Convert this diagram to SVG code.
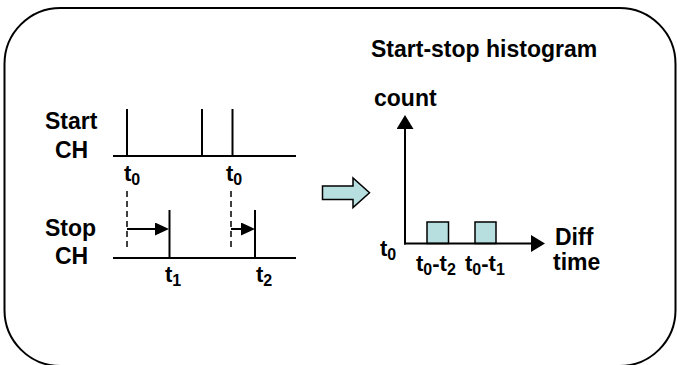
<svg xmlns="http://www.w3.org/2000/svg" width="677" height="365" viewBox="0 0 677 365">
<defs>
<style>
text{font-family:"Liberation Sans",Arial,sans-serif;font-weight:bold;fill:#000;font-size:23px}
.t{font-size:22px}
.ln{stroke:#000;stroke-width:2;fill:none}
.dash{stroke:#000;stroke-width:1.5;stroke-dasharray:6,4;fill:none}
.bar{fill:#b8dfe0;stroke:#000;stroke-width:1.5}
.sub{font-size:16px}
</style>
<marker id="ahS" markerUnits="userSpaceOnUse" markerWidth="14" markerHeight="13" refX="8" refY="6.5" orient="auto"><path d="M0,0 L14,6.5 L0,13 z" fill="#000"/></marker>
<marker id="ahB" markerUnits="userSpaceOnUse" markerWidth="14" markerHeight="17" refX="8" refY="8.5" orient="auto"><path d="M0,0 L14,8.5 L0,17 z" fill="#000"/></marker>
</defs>
<rect x="4.5" y="8" width="671" height="358" rx="56" ry="56" fill="#fff" stroke="#000" stroke-width="2"/>
<g id="start-channel">
<text x="45" y="128.5">Start</text>
<text x="55" y="157.5">CH</text>
<line class="ln" x1="113" y1="156" x2="296" y2="156"/>
<line class="ln" x1="127" y1="109" x2="127" y2="156"/>
<line class="ln" x1="202" y1="109" x2="202" y2="156"/>
<line class="ln" x1="232.5" y1="109" x2="232.5" y2="156"/>
<text class="t" x="124" y="181">t<tspan class="sub" dy="4">0</tspan></text>
<text class="t" x="226" y="181">t<tspan class="sub" dy="4">0</tspan></text>
</g>
<g id="stop-channel">
<text x="45" y="236">Stop</text>
<text x="55" y="264">CH</text>
<line class="ln" x1="113" y1="258" x2="296" y2="258"/>
<line class="ln" x1="169.5" y1="210" x2="169.5" y2="258"/>
<line class="ln" x1="255" y1="210" x2="255" y2="258"/>
<line class="dash" x1="127" y1="191" x2="127" y2="251"/>
<line class="dash" x1="231" y1="191" x2="231" y2="251"/>
<text class="t" x="165" y="282">t<tspan class="sub" dy="4">1</tspan></text>
<text class="t" x="256" y="282">t<tspan class="sub" dy="4">2</tspan></text>
</g>
<g id="block-arrow">
<path d="M322.5,186 L353,186 L353,178 L369.5,192.8 L353,207.5 L353,199.5 L322.5,199.5 z" fill="#b8dfe0" stroke="#000" stroke-width="1.5"/>
</g>
<g id="histogram">
<text x="371" y="56.5">Start-stop histogram</text>
<text x="374" y="105.5">count</text>
<rect class="bar" x="427" y="222" width="21.5" height="21.5"/>
<rect class="bar" x="475" y="222" width="21" height="21.5"/>
<text class="t" x="380" y="256">t<tspan class="sub" dy="4">0</tspan></text>
<text class="t" x="416" y="271">t<tspan class="sub" dy="4">0</tspan><tspan dy="-4">-t</tspan><tspan class="sub" dy="4">2</tspan></text>
<text class="t" x="465" y="271">t<tspan class="sub" dy="4">0</tspan><tspan dy="-4">-t</tspan><tspan class="sub" dy="4">1</tspan></text>
<text x="555" y="245">Diff</text>
<text x="553" y="270">time</text>
</g>
<g id="connectors">
<line class="ln" x1="127" y1="229" x2="163" y2="229" marker-end="url(#ahS)"/>
<line class="ln" x1="231" y1="229" x2="249" y2="229" marker-end="url(#ahS)"/>
<line class="ln" x1="405" y1="244.5" x2="405" y2="121" marker-end="url(#ahB)"/>
<line class="ln" x1="404" y1="243.5" x2="539" y2="243.5" marker-end="url(#ahB)"/>
</g>
</svg>
